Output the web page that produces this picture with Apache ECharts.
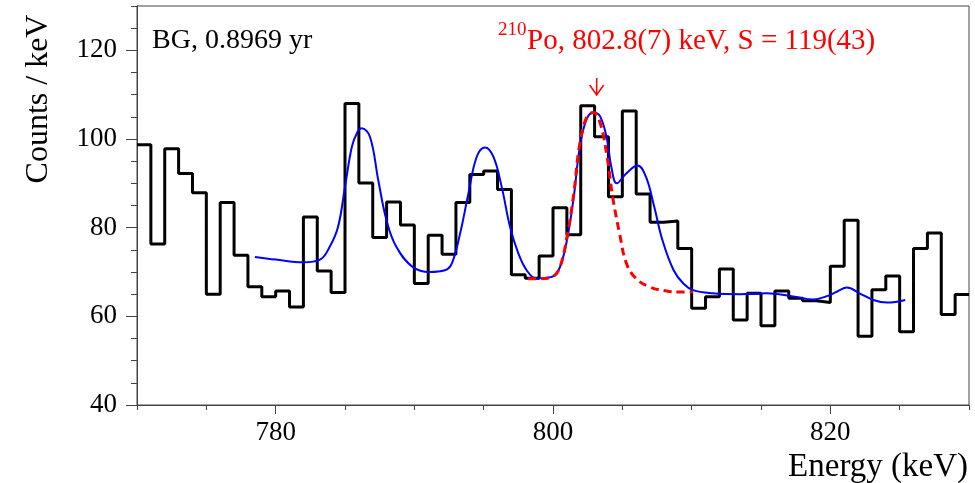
<!DOCTYPE html>
<html>
<head>
<meta charset="utf-8">
<script src="https://cdn.jsdelivr.net/npm/echarts@6.0.0/dist/echarts.min.js"></script>
<style>
  html, body { margin: 0; padding: 0; background: #fff; }
  #main { width: 975px; height: 483px; }
</style>
</head>
<body>
<div id="main"></div>
<script>
// histogram, 1 keV bins starting at 770 keV
const binStart = 770
const binWidth = 1
const counts = [
  98.7, 76.3, 97.8, 92.2, 87.9, 65.0, 85.7, 73.8, 66.7, 64.4,
  65.7, 62.1, 82.4, 70.2, 65.4, 108.0, 90.1, 77.8, 85.8, 80.6,
  67.4, 78.3, 74.0, 85.7, 92.0, 92.8, 88.6, 69.4, 68.6, 73.6,
  84.5, 78.4, 107.5, 100.5, 87.0, 106.3, 87.6, 81.2, 81.5, 75.3,
  61.8, 64.4, 70.7, 59.2, 65.2, 57.9, 65.7, 64.1, 63.5, 63.1,
  71.3, 81.7, 55.5, 66.0, 69.1, 56.5, 75.3, 78.8, 60.4, 64.9,
]

// total fit (blue)
const fitE = [778.5, 780.0, 782.0, 783.2, 783.9, 784.5, 785.0, 785.5, 785.9, 786.2, 786.8, 787.4, 788.0, 788.7, 789.9,
  791.1, 792.2, 792.7, 793.3, 793.9, 794.5, 795.1, 795.7, 796.3, 796.9, 797.5, 798.1, 798.8, 799.5,
  800.0, 800.5, 801.0, 801.5, 801.9, 802.4, 802.9, 803.4, 803.9, 804.2, 804.6, 805.3, 806.1, 806.7,
  807.3, 807.9, 808.7, 809.4, 810.1, 811.5, 813.5, 815.4, 817.3, 818.8, 819.7, 820.5, 821.2, 822.1, 823.1, 824.1, 825.4]
const fitV = [73.4, 72.8, 72.2, 72.8, 75.7, 80.2, 89.2, 98.3, 101.6, 102.4, 100.5, 90.7, 81.6, 75.7, 71.1,
  70.0, 70.4, 71.9, 78.7, 87.7, 96.0, 98.1, 96.0, 89.2, 80.2, 74.2, 70.4, 68.5, 68.7,
  69.0, 71.1, 77.1, 87.0, 97.5, 104.3, 106.0, 105.1, 99.8, 93.8, 90.0, 92.3, 94.0, 91.5,
  84.7, 77.1, 70.4, 67.4, 65.9, 65.2, 65.0, 65.2, 64.5, 63.8, 64.5, 65.6, 66.5, 65.2, 63.7, 63.1, 63.7]

// 210Po peak (red dashed)
const peakE = [798.2, 799.0, 800.0, 800.5, 801.0, 801.5, 801.9, 802.4, 802.9, 803.4, 803.9, 804.3, 804.8, 805.3, 806.0, 807.0, 808.2, 809.1, 810.1]
const peakV = [68.5, 68.5, 69.0, 71.1, 77.8, 87.7, 98.3, 104.7, 106.0, 103.6, 96.0, 87.0, 78.7, 71.9, 68.5, 66.6, 65.7, 65.5, 65.5]

const xMajor = [780, 800, 820]
const yMajor = [40, 60, 80, 100, 120]

const serif = '"Liberation Serif", "DejaVu Serif", serif'
const frame = '#444'

const histData = counts.map((c, i) => [binStart + i * binWidth, c])
histData.push([binStart + counts.length * binWidth, counts[counts.length - 1]])

const chart = echarts.init(document.getElementById('main'))

const option = {
  animation: false,
  grid: {left: 137, right: 6, top: 6, bottom: 78, show: true, borderColor: frame, borderWidth: 1},
  xAxis: [
    {
      type: 'value', min: 770, max: 830, interval: 5,
      axisLine: {lineStyle: {color: frame, width: 1}},
      axisTick: {length: 5, lineStyle: {color: frame}},
      axisLabel: {show: false},
      splitLine: {show: false},
    },
    {
      type: 'value', min: 770, max: 830, position: 'bottom',
      axisLine: {show: false},
      axisTick: {customValues: xMajor, length: 9, lineStyle: {color: frame}},
      axisLabel: {customValues: xMajor, fontFamily: serif, fontSize: 27, color: '#000', margin: 14},
      splitLine: {show: false},
    },
  ],
  yAxis: [
    {
      type: 'value', min: 40, max: 130, interval: 5,
      axisLine: {show: true, lineStyle: {color: frame, width: 1}},
      axisTick: {show: true, length: 6, lineStyle: {color: frame}},
      axisLabel: {show: false},
      splitLine: {show: false},
    },
    {
      type: 'value', min: 40, max: 130, position: 'left',
      axisLine: {show: false},
      axisTick: {show: true, customValues: yMajor, length: 11, lineStyle: {color: frame}},
      axisLabel: {customValues: yMajor, fontFamily: serif, fontSize: 27, color: '#000', margin: 20},
      splitLine: {show: false},
    },
  ],
  series: [
    {
      type: 'line', step: 'end', data: histData, symbol: 'none',
      lineStyle: {color: '#000', width: 3}, z: 2,
    },
    {
      type: 'line', data: fitE.map((e, i) => [e, fitV[i]]), symbol: 'none', smooth: 0.4,
      lineStyle: {color: '#0000ff', width: 2}, z: 3,
    },
    {
      type: 'line', data: peakE.map((e, i) => [e, peakV[i]]), symbol: 'none', smooth: 0.4,
      lineStyle: {color: '#ff0000', width: 3, type: [8, 5]}, z: 4,
    },
  ],
}
chart.setOption(option)

// annotations
const arrowX = chart.convertToPixel({xAxisIndex: 0}, 803.15)
chart.setOption({
  graphic: [
    {type: 'text', x: 152, y: 27, style: {text: 'BG, 0.8969 yr', font: `28px ${serif}`, fill: '#000'}},
    {type: 'text', x: 498, y: 21, style: {text: '210', font: `19px ${serif}`, fill: '#ff0000'}},
    {type: 'text', x: 527, y: 27, style: {text: 'Po, 802.8(7) keV, S = 119(43)', font: `29px ${serif}`, fill: '#ff0000'}},
    {type: 'line', shape: {x1: arrowX, y1: 78, x2: arrowX, y2: 95}, style: {stroke: '#ff0000', lineWidth: 1.5}},
    {type: 'polyline', shape: {points: [[arrowX - 7, 85], [arrowX, 95], [arrowX + 7, 85]]}, style: {stroke: '#ff0000', lineWidth: 1.5, fill: null}},
    {type: 'text', x: 968, y: 451, style: {text: 'Energy (keV)', font: `33px ${serif}`, fill: '#000', align: 'right'}},
    {type: 'text', x: 23, y: 99, rotation: Math.PI / 2,
      style: {text: 'Counts / keV', font: `32px ${serif}`, fill: '#000', align: 'center', verticalAlign: 'top'}},
  ],
})
</script>
</body>
</html>
